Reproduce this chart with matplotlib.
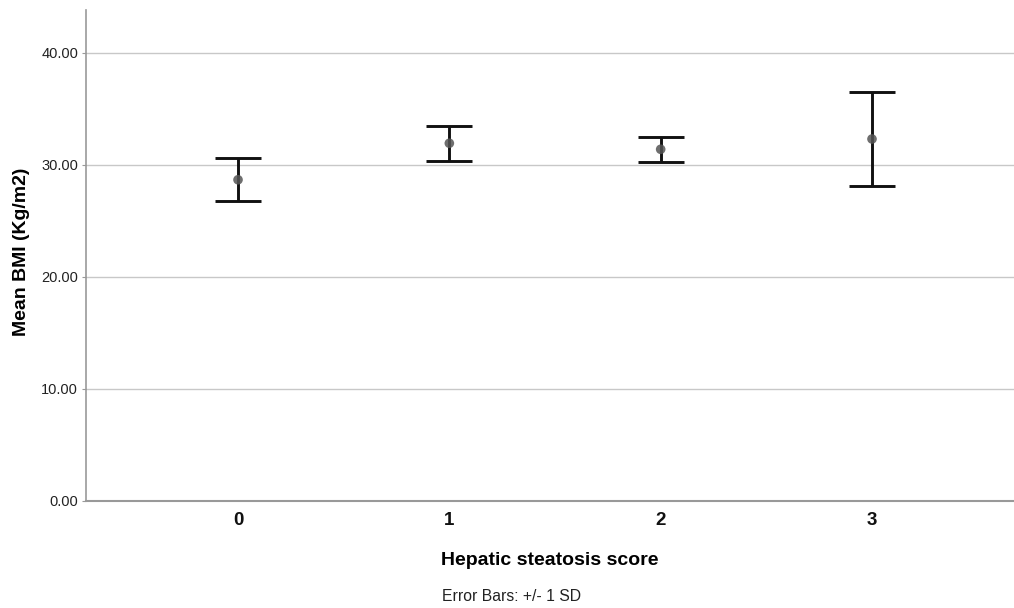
import matplotlib
matplotlib.use('Agg')
import matplotlib.pyplot as plt
import numpy as np

plt.rcParams['font.family'] = ['Liberation Sans', 'DejaVu Sans']

# Mean BMI per hepatic steatosis score, with +/- 1 SD
scores = ['0', '1', '2', '3']
mean_bmi = [28.64, 31.90, 31.36, 32.28]
upper = [30.60, 33.47, 32.48, 36.45]
lower = [26.74, 30.34, 30.22, 28.10]

x = np.arange(len(scores))
err_low = np.array(mean_bmi) - np.array(lower)
err_high = np.array(upper) - np.array(mean_bmi)

fig = plt.figure(figsize=(10.14, 6.08), dpi=100)
ax = fig.add_axes([0.0853, 0.1768, 0.9147, 0.8068])

ax.errorbar(x, mean_bmi, yerr=[err_low, err_high], fmt='none', ecolor='#111111',
            elinewidth=2.1, capsize=16.5, capthick=2.1, zorder=3)
ax.scatter(x, mean_bmi, s=48, color='#555555', alpha=0.85, zorder=4, edgecolors='none')

ax.set_xlim(-0.717, 3.672)
ax.set_ylim(0, 43.8)

ax.set_yticks([0, 10, 20, 30, 40])
ax.set_yticklabels([f'{v:.2f}' for v in [0, 10, 20, 30, 40]], fontsize=10.5, color='#222222')
ax.set_xticks(x)
ax.set_xticklabels(scores, fontsize=13.5, fontweight='bold', color='#111111')

ax.yaxis.grid(True, color='#c8c8c8', linewidth=1.0)
ax.set_axisbelow(True)

for side in ['top', 'right']:
    ax.spines[side].set_visible(False)
ax.spines['left'].set_color('#999999')
ax.spines['bottom'].set_color('#999999')
ax.spines['left'].set_linewidth(1.2)
ax.spines['bottom'].set_linewidth(1.5)

ax.tick_params(axis='x', length=0, pad=8)
ax.tick_params(axis='y', length=3, color='#999999', pad=3)

ax.set_xlabel('Hepatic steatosis score', fontsize=14, fontweight='bold', labelpad=17)
ax.set_ylabel('Mean BMI (Kg/m2)', fontsize=14, fontweight='bold')
ax.yaxis.set_label_coords(-0.061, 0.507)

fig.text(0.5045, 0.0115, 'Error Bars: +/- 1 SD', fontsize=11.3, ha='center', va='baseline', color='#222222')

fig.savefig('out.png', dpi=100)
